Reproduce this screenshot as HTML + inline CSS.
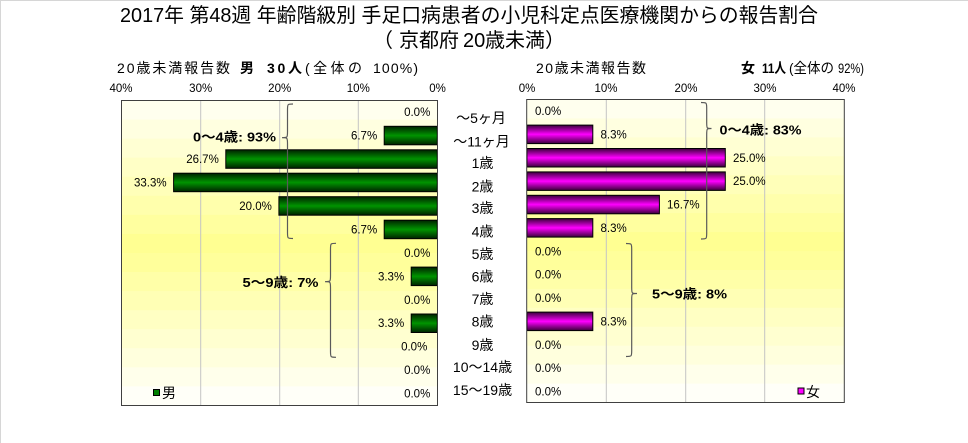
<!DOCTYPE html>
<html><head><meta charset="utf-8"><style>
html,body{margin:0;padding:0;background:#fff;}
svg{display:block;}
text{font-family:"Liberation Sans","Noto Sans CJK JP",sans-serif;fill:#000;}
.v{font-size:11.5px;fill:#222;}
.t{font-size:11.5px;fill:#222;}
.c{font-size:14px;}
.g{font-size:13px;font-weight:bold;}
</style></head><body>
<svg width="968" height="443" viewBox="0 0 968 443" xmlns="http://www.w3.org/2000/svg">
<defs>
<linearGradient id="gr" x1="0" y1="0" x2="0" y2="1">
<stop offset="0" stop-color="#002200"/>
<stop offset="0.5" stop-color="#009400"/>
<stop offset="1" stop-color="#002200"/>
</linearGradient>
<linearGradient id="mg" x1="0" y1="0" x2="0" y2="1">
<stop offset="0" stop-color="#3a003a"/>
<stop offset="0.5" stop-color="#ff00ff"/>
<stop offset="1" stop-color="#3a003a"/>
</linearGradient>
</defs>
<rect x="0" y="0" width="968" height="443" fill="#fff"/>
<line x1="0" y1="0.5" x2="968" y2="0.5" stroke="#d6d6d6"/>
<line x1="0.5" y1="0" x2="0.5" y2="443" stroke="#d6d6d6"/>

<!-- Title -->
<text x="120" y="22" font-size="20" textLength="698" lengthAdjust="spacingAndGlyphs">2017年 第48週 年齢階級別 手足口病患者の小児科定点医療機関からの報告割合</text>
<text font-size="20" y="47"><tspan x="373">（</tspan><tspan x="399">京都府</tspan><tspan x="463">20</tspan><tspan x="485">歳未満</tspan><tspan x="545">）</tspan></text>

<!-- Subtitles -->
<text font-size="14" y="73"><tspan x="117" textLength="113" lengthAdjust="spacing">20歳未満報告数</tspan></text>
<text font-size="14" y="73" font-weight="bold"><tspan x="240">男</tspan><tspan x="267" textLength="35" lengthAdjust="spacing">30人</tspan></text>
<text font-size="14" y="73"><tspan x="305" textLength="57" lengthAdjust="spacing">(全体の</tspan><tspan x="373" textLength="45" lengthAdjust="spacing">100%)</tspan></text>

<text font-size="14" y="73"><tspan x="536" textLength="110" lengthAdjust="spacing">20歳未満報告数</tspan></text>
<text font-size="14" y="73" font-weight="bold"><tspan x="741">女</tspan><tspan x="762" textLength="24" lengthAdjust="spacingAndGlyphs">11人</tspan></text>
<text font-size="14" y="73"><tspan x="789" textLength="45" lengthAdjust="spacingAndGlyphs">(全体の</tspan><tspan x="838" textLength="26" lengthAdjust="spacingAndGlyphs">92%)</tspan></text>

<!-- Tick labels -->
<g class="t" text-anchor="middle">
<text x="121" y="92">40%</text><text x="200.7" y="92">30%</text><text x="279.7" y="92">20%</text><text x="358.3" y="92">10%</text><text x="437.5" y="92">0%</text>
<text x="527" y="92">0%</text><text x="606" y="92">10%</text><text x="686" y="92">20%</text><text x="765" y="92">30%</text><text x="844" y="92">40%</text>
</g>

<!-- Left plot background bands -->
<g stroke="none">
<rect x="121.5" y="100.5" width="316" height="19.6" fill="#ffffee"/>
<rect x="121.5" y="119.56" width="316" height="19.6" fill="#ffffe0"/>
<rect x="121.5" y="138.62" width="316" height="19.6" fill="#ffffd3"/>
<rect x="121.5" y="157.68" width="316" height="19.6" fill="#ffffc6"/>
<rect x="121.5" y="176.74" width="316" height="19.6" fill="#ffffb9"/>
<rect x="121.5" y="195.8" width="316" height="19.6" fill="#ffffac"/>
<rect x="121.5" y="214.86" width="316" height="19.6" fill="#ffff9f"/>
<rect x="121.5" y="233.92" width="316" height="19.6" fill="#ffff92"/>
<rect x="121.5" y="252.98" width="316" height="19.6" fill="#ffff9b"/>
<rect x="121.5" y="272.04" width="316" height="19.6" fill="#ffffa8"/>
<rect x="121.5" y="291.1" width="316" height="19.6" fill="#ffffb5"/>
<rect x="121.5" y="310.16" width="316" height="19.6" fill="#ffffc3"/>
<rect x="121.5" y="329.22" width="316" height="19.6" fill="#ffffd0"/>
<rect x="121.5" y="348.28" width="316" height="19.6" fill="#ffffdd"/>
<rect x="121.5" y="367.34" width="316" height="19.6" fill="#ffffeb"/>
<rect x="121.5" y="386.4" width="316" height="19.06" fill="#fffff8"/>
</g>
<g stroke="#c4c4c4" stroke-width="1">
<line x1="200.7" y1="101" x2="200.7" y2="405"/>
<line x1="279.7" y1="101" x2="279.7" y2="405"/>
<line x1="358.3" y1="101" x2="358.3" y2="405"/>
</g>
<g fill="url(#gr)" stroke="#000" stroke-width="1">
<rect x="384.2" y="126.3" width="53.1" height="18.5"/>
<rect x="225.8" y="149.8" width="211.5" height="18.5"/>
<rect x="173.6" y="173.2" width="263.7" height="18.5"/>
<rect x="278.9" y="196.7" width="158.4" height="18.5"/>
<rect x="384.2" y="220.2" width="53.1" height="18.5"/>
<rect x="411.2" y="267.1" width="26.1" height="18.5"/>
<rect x="411.2" y="314.0" width="26.1" height="18.5"/>
</g>
<rect x="121.5" y="100.5" width="316" height="305" fill="none" stroke="#404040" stroke-width="1"/>
<g class="v" text-anchor="end">
<text x="430.3" y="116.1">0.0%</text>
<text x="377.2" y="139.6">6.7%</text>
<text x="218.8" y="163.0">26.7%</text>
<text x="166.6" y="186.5">33.3%</text>
<text x="271.9" y="209.9">20.0%</text>
<text x="377.2" y="233.4">6.7%</text>
<text x="430.3" y="256.9">0.0%</text>
<text x="404.2" y="280.3">3.3%</text>
<text x="430.3" y="303.8">0.0%</text>
<text x="404.2" y="327.2">3.3%</text>
<text x="427.3" y="350.7">0.0%</text>
<text x="430.3" y="374.2">0.0%</text>
<text x="430.3" y="397.6">0.0%</text>
</g>
<!-- left braces -->
<g fill="none" stroke="#5a5a5a" stroke-width="1.2">
<path d="M293,104 C287.5,104 287.5,104 287.5,110 L287.5,131.7 C287.5,137.7 287.5,137.7 282,137.7 C287.5,137.7 287.5,137.7 287.5,143.7 L287.5,232.5 C287.5,238.5 287.5,238.5 293,238.5"/>
<path d="M336,243.3 C330.5,243.3 330.5,243.3 330.5,249.3 L330.5,275.7 C330.5,281.7 330.5,281.7 325,281.7 C330.5,281.7 330.5,281.7 330.5,287.7 L330.5,351.3 C330.5,357.3 330.5,357.3 336,357.3"/>
</g>
<text class="g" x="276" y="141.5" text-anchor="end" textLength="83" lengthAdjust="spacingAndGlyphs">0～4歳: 93%</text>
<text class="g" x="318.5" y="287" text-anchor="end" textLength="76" lengthAdjust="spacingAndGlyphs">5～9歳: 7%</text>
<rect x="153.5" y="389.5" width="6" height="6" fill="#008000" stroke="#000" stroke-width="1"/>
<text x="162" y="398" font-size="14">男</text>

<!-- Right plot background bands -->
<g stroke="none">
<rect x="526.7" y="99.5" width="317.6" height="19.5" fill="#ffffee"/>
<rect x="526.7" y="118.44" width="317.6" height="19.5" fill="#ffffe0"/>
<rect x="526.7" y="137.38" width="317.6" height="19.5" fill="#ffffd3"/>
<rect x="526.7" y="156.32" width="317.6" height="19.5" fill="#ffffc6"/>
<rect x="526.7" y="175.26" width="317.6" height="19.5" fill="#ffffb9"/>
<rect x="526.7" y="194.2" width="317.6" height="19.5" fill="#ffffac"/>
<rect x="526.7" y="213.14" width="317.6" height="19.5" fill="#ffff9f"/>
<rect x="526.7" y="232.08" width="317.6" height="19.5" fill="#ffff92"/>
<rect x="526.7" y="251.02" width="317.6" height="19.5" fill="#ffff9b"/>
<rect x="526.7" y="269.96" width="317.6" height="19.5" fill="#ffffa8"/>
<rect x="526.7" y="288.9" width="317.6" height="19.5" fill="#ffffb5"/>
<rect x="526.7" y="307.84" width="317.6" height="19.5" fill="#ffffc3"/>
<rect x="526.7" y="326.78" width="317.6" height="19.5" fill="#ffffd0"/>
<rect x="526.7" y="345.72" width="317.6" height="19.5" fill="#ffffdd"/>
<rect x="526.7" y="364.66" width="317.6" height="19.5" fill="#ffffeb"/>
<rect x="526.7" y="383.6" width="317.6" height="18.9" fill="#fffff8"/>
</g>
<g stroke="#c4c4c4" stroke-width="1">
<line x1="606.3" y1="100" x2="606.3" y2="402"/>
<line x1="685.7" y1="100" x2="685.7" y2="402"/>
<line x1="764.7" y1="100" x2="764.7" y2="402"/>
</g>
<g fill="url(#mg)" stroke="#000" stroke-width="1">
<rect x="527" y="125.1" width="65.8" height="18.5"/>
<rect x="527" y="148.5" width="198.3" height="18.5"/>
<rect x="527" y="171.9" width="198.3" height="18.5"/>
<rect x="527" y="195.3" width="132.4" height="18.5"/>
<rect x="527" y="218.6" width="65.8" height="18.5"/>
<rect x="527" y="312.1" width="65.8" height="18.5"/>
</g>
<rect x="526.7" y="99.5" width="317.6" height="303" fill="none" stroke="#404040" stroke-width="1"/>
<g class="v" text-anchor="start">
<text x="535" y="115.0">0.0%</text>
<text x="600.5" y="138.4">8.3%</text>
<text x="733" y="161.8">25.0%</text>
<text x="733" y="185.1">25.0%</text>
<text x="667" y="208.5">16.7%</text>
<text x="600.5" y="231.9">8.3%</text>
<text x="535" y="255.3">0.0%</text>
<text x="535" y="278.6">0.0%</text>
<text x="535" y="302.0">0.0%</text>
<text x="600.5" y="325.4">8.3%</text>
<text x="535" y="348.8">0.0%</text>
<text x="535" y="372.1">0.0%</text>
<text x="535" y="395.5">0.0%</text>
</g>
<g fill="none" stroke="#5a5a5a" stroke-width="1.2">
<path d="M701,102.5 C706.7,102.5 706.7,102.5 706.7,108.5 L706.7,122.5 C706.7,128.5 706.7,128.5 711.5,128.5 C706.7,128.5 706.7,128.5 706.7,134.5 L706.7,233 C706.7,239 706.7,239 701,239"/>
<path d="M626,243.5 C631.7,243.5 631.7,243.5 631.7,249.5 L631.7,287.5 C631.7,293.5 631.7,293.5 637,293.5 C631.7,293.5 631.7,293.5 631.7,299.5 L631.7,350.5 C631.7,356.5 631.7,356.5 626,356.5"/>
</g>
<text class="g" x="719.5" y="134.5" textLength="82" lengthAdjust="spacingAndGlyphs">0～4歳: 83%</text>
<text class="g" x="652" y="298.5" textLength="75" lengthAdjust="spacingAndGlyphs">5～9歳: 8%</text>
<rect x="798" y="388" width="6" height="6" fill="#ff00ff" stroke="#000" stroke-width="1"/>
<text x="806" y="397" font-size="14">女</text>

<!-- Category labels -->
<g class="c" text-anchor="middle">
<text x="481" y="123">～5ヶ月</text>
<text x="481.5" y="146.7">～11ヶ月</text>
<text x="482.5" y="168">1歳</text>
<text x="482.5" y="191.5">2歳</text>
<text x="482.5" y="213">3歳</text>
<text x="482.5" y="236.5">4歳</text>
<text x="482.5" y="259">5歳</text>
<text x="482.5" y="281.7">6歳</text>
<text x="482.5" y="304">7歳</text>
<text x="482.5" y="326.7">8歳</text>
<text x="482.5" y="350">9歳</text>
<text x="482.5" y="372">10～14歳</text>
<text x="482.5" y="395">15～19歳</text>
</g>
</svg>
</body></html>
